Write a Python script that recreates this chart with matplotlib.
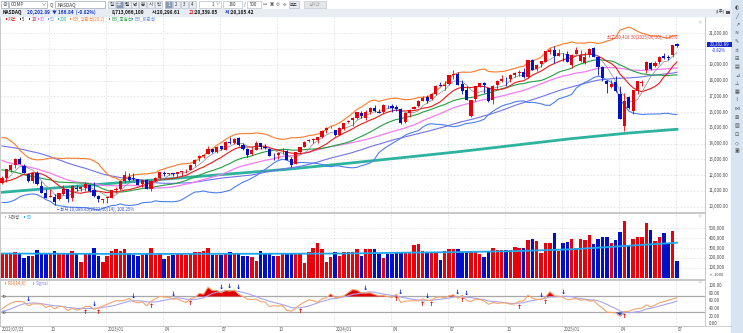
import numpy as np
import pandas as pd
import matplotlib
matplotlib.use("Agg")
import matplotlib.pyplot as plt
from matplotlib.patches import Rectangle

plt.rcParams['font.family'] = ['Noto Sans CJK KR', 'DejaVu Sans']

W, H = 743, 333

# weekly NASDAQ candles, first week ends 2022/07/22, last is the partial week of 2025/06/30
opens = [11480, 11800, 12310, 12660, 13000, 12600, 12090, 11640, 12120, 11340,
         10840, 10620, 10620, 10460, 10800, 11130, 10530, 11190, 11100, 11180,
         11400, 11040, 10700, 10440, 10560, 10580, 11080, 11120, 11620, 11900,
         11790, 11760, 11470, 11720, 11100, 11650, 11800, 12170, 12070, 12130,
         12080, 12210, 12240, 12340, 12700, 13080, 13240, 13340, 13670, 13470,
         13840, 13620, 14120, 14050, 14350, 13920, 13640, 13340, 13620, 14030,
         13780, 13680, 13240, 13250, 13380, 13520, 13050, 12710, 13450, 13810,
         14150, 14250, 14220, 14400, 14850, 15000, 14870, 14560, 14950, 15370,
         15520, 15600, 15960, 15650, 16010, 16250, 16010, 15990, 16410, 16380,
         16300, 16200, 15350, 15950, 16200, 16380, 16720, 16940, 16830, 17140,
         17700, 17630, 17760, 18360, 18400, 17800, 17380, 15780, 16810, 17650,
         17850, 17500, 16800, 17700, 17980, 18170, 18080, 18370, 18490, 18570,
         18240, 19300, 18730, 19040, 19200, 19810, 19950, 19570, 19650, 19700,
         18980, 19720, 19250, 19120, 19600, 20080, 19520, 18870, 17990, 17620,
         17900, 17180, 15100, 16970, 16100, 17330, 17850, 18700, 19100, 18950,
         19170, 19590, 19500, 19610, 20300]
highs = [11960, 12400, 12720, 13080, 13181, 12690, 12120, 12120, 12270, 11600,
         11110, 11150, 10810, 10870, 11350, 11150, 11340, 11400, 11320, 11570,
         11400, 11570, 10750, 10520, 10620, 11090, 11250, 11660, 12270, 12160,
         12150, 11780, 11710, 11780, 11720, 11890, 12230, 12270, 12170, 12170,
         12230, 12270, 12370, 12730, 13010, 13260, 13340, 13860, 13680, 13840,
         13880, 14140, 14450, 14330, 14450, 14050, 13700, 13760, 14150, 14040,
         13980, 13740, 13380, 13440, 13700, 13610, 13170, 13490, 13800, 14160,
         14300, 14340, 14410, 14850, 15040, 15100, 14880, 15070, 15320, 15520,
         15680, 16000, 16080, 16130, 16300, 16450, 16220, 16540, 16450, 16530,
         16450, 16270, 15990, 16170, 16390, 16780, 17030, 17080, 17240, 17700,
         17940, 17970, 18360, 18670, 18560, 18020, 17680, 16800, 17640, 17880,
         17920, 17530, 17700, 18040, 18330, 18200, 18390, 18550, 18690, 18790,
         19300, 19370, 19060, 19230, 19870, 20060, 20200, 20030, 19730, 19870,
         19700, 20120, 19950, 19800, 20050, 20110, 19580, 18900, 18030, 18030,
         18280, 17650, 17200, 17030, 17430, 18000, 18020, 19240, 19180, 19260,
         19560, 19750, 19630, 20280, 20418]
lows = [11410, 11560, 12220, 12440, 12680, 12140, 11580, 11500, 11360, 10850,
        10530, 10590, 10089, 10430, 10760, 10320, 10360, 10990, 10980, 10980,
        10950, 10630, 10320, 10260, 10260, 10540, 10870, 11080, 11500, 11660,
        11690, 11350, 11280, 11130, 10980, 11620, 11760, 11930, 11980, 11970,
        11800, 11930, 12150, 12320, 12570, 12900, 13110, 13340, 13420, 13380,
        13580, 13580, 13980, 13970, 13870, 13600, 13160, 13260, 13600, 13640,
        13680, 13210, 12960, 13010, 13370, 12980, 12540, 12700, 13390, 13800,
        14120, 14060, 14060, 14350, 14700, 14990, 14470, 14540, 14850, 15340,
        15150, 15550, 15650, 15520, 15900, 16020, 15940, 15940, 16270, 16000,
        16050, 15260, 15330, 15680, 16180, 16350, 16680, 16560, 16790, 17090,
        17640, 17400, 17700, 18110, 17700, 17180, 16750, 15708, 16700, 17600,
        17210, 16660, 16520, 17450, 17900, 17680, 17920, 18240, 18270, 18180,
        18150, 18660, 18600, 18870, 19160, 19700, 19110, 19550, 19270, 19160,
        18830, 19660, 19200, 19050, 19500, 19500, 18370, 17950, 17240, 17550,
        17280, 15580, 14780, 16170, 15900, 17160, 17640, 18500, 18650, 18880,
        19050, 19350, 19320, 19500, 20105]
closes = [11834, 12391, 12657, 13047, 12705, 12142, 11630, 12112, 11448, 10868,
          10576, 10652, 10321, 10860, 11102, 10475, 11323, 11146, 11226, 11461,
          11005, 10705, 10498, 10466, 10569, 11079, 11140, 11622, 12007, 11718,
          11787, 11395, 11689, 11138, 11631, 11824, 12222, 12088, 12123, 12072,
          12227, 12235, 12284, 12658, 12975, 13241, 13259, 13689, 13492, 13788,
          13660, 14113, 14032, 14317, 13909, 13645, 13290, 13590, 14031, 13762,
          13708, 13212, 13219, 13431, 13407, 12984, 12643, 13478, 13798, 14125,
          14250, 14305, 14404, 14814, 14992, 15011, 14524, 14973, 15311, 15455,
          15629, 15991, 15776, 15997, 16275, 16085, 15973, 16429, 16379, 16249,
          16175, 15282, 15928, 16156, 16341, 16686, 16921, 16735, 17133, 17689,
          17689, 17733, 18353, 18398, 17727, 17358, 16776, 16745, 17631, 17877,
          17714, 16691, 17683, 17948, 18119, 18138, 18343, 18490, 18519, 18240,
          19287, 18680, 19004, 19218, 19860, 19926, 19573, 19722, 19622, 19162,
          19630, 19954, 19627, 19523, 20027, 19524, 18847, 18196, 17754, 17784,
          17323, 15588, 16724, 16286, 17383, 17978, 17929, 19211, 18737, 19114,
          19530, 19407, 19447, 20273, 20203]
# weekly volume, in thousands of the axis unit
volumes = [247, 240, 247, 260, 233, 200, 220, 215, 280, 250,
           250, 245, 265, 245, 250, 240, 265, 235, 160, 240,
           240, 300, 215, 160, 215, 265, 290, 270, 285, 245,
           230, 215, 225, 250, 300, 230, 235, 190, 215, 230,
           240, 250, 230, 250, 255, 260, 265, 300, 230, 230,
           230, 240, 260, 240, 240, 220, 215, 207, 170, 270,
           237, 237, 213, 213, 237, 237, 237, 237, 240, 146,
           254, 291, 348, 281, 160, 203, 254, 213, 254, 254,
           260, 281, 213, 281, 290, 290, 237, 195, 237, 237,
           245, 245, 254, 260, 324, 331, 270, 260, 260, 260,
           180, 270, 290, 281, 290, 260, 254, 254, 260, 240,
           207, 254, 298, 275, 275, 275, 275, 308, 300, 300,
           375, 382, 365, 248, 348, 348, 442, 265, 348, 355,
           382, 298, 382, 375, 422, 331, 388, 405, 405, 345,
           372, 460, 567, 324, 382, 409, 405, 543, 473, 362,
           402, 449, 348, 469, 167]

# closes of the 51 weeks before the window (feed the moving averages and RSI)
prior_closes = [14673, 14835, 14822, 14714, 15130, 15364, 15115, 15044, 15048, 14567,
                14580, 14897, 15090, 15498, 15971, 15860, 16057, 15492, 15085, 15630,
                15170, 15653, 15645, 14936, 14894, 13769, 13771, 14098, 13791, 13548,
                13694, 13313, 12843, 13894, 14169, 14261, 13711, 13351, 12839, 12335,
                12145, 11805, 11354, 12131, 12013, 11340, 10798, 11608, 11128, 11635,
                11452]

# 200-week average and 50-week volume average
ma200_idx = [0, 13, 26, 39, 52, 65, 78, 91, 104, 117, 130, 143, 154]
ma200_val = [10914, 11212, 11504, 11789, 12081, 12373, 12728, 13103, 13483, 13902, 14321, 14676, 14911]
volma_idx = [0, 13, 26, 39, 52, 65, 78, 91, 104, 117, 130, 143, 154]
volma_val = [240, 238, 236, 236, 237, 238, 240, 248, 254, 264, 282, 318, 348]

n = len(closes)
x = np.arange(n)
dates = pd.date_range('2022-07-22', periods=n, freq='W-FRI')

all_close = pd.Series(prior_closes + closes, dtype=float)
k = len(prior_closes)


def ma(p):
    return all_close.rolling(p).mean().iloc[k:].to_numpy()


ma5, ma10, ma30, ma50 = ma(5), ma(10), ma(30), ma(50)
bb_mid = ma(20)
bb_sd = all_close.rolling(20).std(ddof=0).iloc[k:].to_numpy()
bb_up = bb_mid + 2 * bb_sd
bb_dn = bb_mid - 2 * bb_sd

d = all_close.diff()
au = d.clip(lower=0).rolling(14).mean()
ad = (-d.clip(upper=0)).rolling(14).mean()
rsi_s = 100 * au / (au + ad)
rsi = rsi_s.iloc[k:].to_numpy()
sig = rsi_s.rolling(6).mean().iloc[k:].to_numpy()

o, h, l, c = map(np.array, (opens, highs, lows, closes))
is_up = c >= o
col = np.where(is_up, '#e8000b', '#0010c8')

fig = plt.figure(figsize=(W / 100, H / 100), dpi=100)
fig.patch.set_facecolor('white')


def pax(x0, y0, x1, y1):
    return fig.add_axes([x0 / W, 1 - y1 / H, (x1 - x0) / W, (y1 - y0) / H])


XL = (-0.46, 160.4)
quarters = [i for i in range(1, n) if dates[i].month != dates[i - 1].month and dates[i].month in (1, 4, 7, 10)]
grid_kw = dict(color='#e2e2e2', ls=(0, (2, 2)), lw=0.6, zorder=0)


def style(ax):
    ax.set_xlim(*XL)
    ax.set_xticks([])
    ax.set_yticks([])
    for s in ax.spines.values():
        s.set_color('#c8c8c8')
        s.set_linewidth(0.7)
    for q in quarters:
        ax.axvline(q - 0.3, **grid_kw)


# price panel
ax = pax(0, 16, 705, 212)
style(ax)
ax.set_ylim(9664, 22100)
for lv in range(10000, 22000, 1000):
    ax.axhline(lv, **grid_kw)
ax.plot(ma200_idx, ma200_val, color='#2db39e', lw=2.0, zorder=2)
ax.plot(x, ma50, color='#7272f0', lw=0.8, zorder=2)
ax.plot(x, ma30, color='#f47cf0', lw=0.9, zorder=2)
ax.plot(x, bb_up, color='#ff7a2a', lw=0.8, zorder=2)
ax.plot(x, bb_mid, color='#20a040', lw=0.8, zorder=2)
ax.plot(x, bb_dn, color='#4d7ef0', lw=0.8, zorder=2)
ax.plot(x, ma10, color='#f01818', lw=0.8, zorder=3)
ax.plot(x, ma5, color='#8a8a8a', lw=0.5, zorder=3)
ax.vlines(x, l, h, colors=col, lw=0.6, zorder=4)
ax.bar(x, np.maximum(np.abs(c - o), 25), bottom=np.minimum(o, c), width=0.72,
       color=col, lw=0, zorder=5)

# volume panel
axv = pax(0, 213, 705, 279)
style(axv)
axv.set_ylim(-14.7, 645)
for lv in range(100, 600, 100):
    axv.axhline(lv, **grid_kw)
axv.bar(x, volumes, width=0.78, color=col, lw=0, zorder=2)
axv.plot(volma_idx, volma_val, color='#1ea6ee', lw=1.3, zorder=3)

# RSI panel
axr = pax(0, 280, 705, 326)
style(axr)
axr.set_ylim(-6, 112.4)
axr.axhline(70, color='#a8a8a8', lw=0.9, zorder=1)
axr.axhline(30, color='#a8a8a8', lw=0.9, zorder=1)
axr.fill_between(x, rsi, 70, where=rsi > 70, interpolate=True, color='#e00000', lw=0, zorder=2)
axr.fill_between(x, rsi, 30, where=rsi < 30, interpolate=True, color='#1050e0', lw=0, zorder=2)
axr.plot(x, sig, color='#aaa4f2', lw=0.8, zorder=3)
axr.plot(x, rsi, color='#f4a46c', lw=0.8, zorder=3)
for i in range(1, n):
    if np.isnan(sig[i - 1]):
        continue
    if rsi[i] > sig[i] and rsi[i - 1] <= sig[i - 1]:
        axr.text(i, min(rsi[i], sig[i]) - 4, '↑', color='#e00000', fontsize=4.5, fontweight='bold',
                 ha='center', va='top', zorder=4, family='DejaVu Sans')
    elif rsi[i] < sig[i] and rsi[i - 1] >= sig[i - 1]:
        axr.text(i, max(rsi[i], sig[i]) + 4, '↓', color='#0020e0', fontsize=4.5, fontweight='bold',
                 ha='center', va='bottom', zorder=4, family='DejaVu Sans')

# decorations in pixel coordinates
deco = fig.add_axes([0, 0, 1, 1])
deco.set_xlim(0, W)
deco.set_ylim(H, 0)
deco.axis('off')
deco.set_zorder(10)
deco.patch.set_alpha(0)


def t(px, py, s, size=3.2, color='#333333', ha='left', **kw):
    deco.text(px, py, s, fontsize=size, color=color, ha=ha, va='center', **kw)


# toolbar
deco.add_patch(Rectangle((731, 0), 12, H, color='#d8e4f2', zorder=0))
deco.add_patch(Rectangle((0, 9), 731, 7, color='#e8edf4', zorder=0))
deco.add_patch(Rectangle((1, 1), 7, 7, fc='white', ec='#9aa5b5', lw=0.5))
t(4.5, 4.6, '⊕', 3.5, '#555555', ha='center')
deco.add_patch(Rectangle((9, 1), 38, 7, fc='white', ec='#9aa5b5', lw=0.5))
t(11, 4.6, 'COMP', 3.4, '#444444')
t(44, 4.6, '∨', 3, '#444444', ha='center')
t(51, 4.6, 'Q', 3.4, '#444444', ha='center')
deco.add_patch(Rectangle((55, 1), 50, 7, fc='white', ec='#9aa5b5', lw=0.5))
t(58, 4.6, 'NASDAQ', 3.4, '#333333')
for j, s in enumerate(['일', '주', '월', '년', '분', '시', '틱']):
    fc = '#8a9bb5' if s == '주' else '#e9edf3'
    deco.add_patch(Rectangle((108 + j * 7.8, 1.2), 7, 6.6, fc=fc, ec='#a8b3c3', lw=0.4))
    t(111.5 + j * 7.8, 4.6, s, 3.2, 'white' if s == '주' else '#333333', ha='center')
for j, s in enumerate(['1', '2', '3', '4']):
    fc = '#8a9bb5' if s == '1' else '#e9edf3'
    deco.add_patch(Rectangle((165 + j * 8, 1.2), 7, 6.6, fc=fc, ec='#a8b3c3', lw=0.4))
    t(168.5 + j * 8, 4.6, s, 3.2, 'white' if s == '1' else '#333333', ha='center')
deco.add_patch(Rectangle((199, 1.2), 22, 6.6, fc='white', ec='#a8b3c3', lw=0.4))
t(213, 4.6, '1', 3.2, '#333333', ha='center')
t(218, 4.6, '∨', 2.8, '#444444', ha='center')
deco.add_patch(Rectangle((223, 1.2), 19, 6.6, fc='white', ec='#a8b3c3', lw=0.4))
t(232, 4.6, '160', 3.2, '#333333', ha='center')
t(244.5, 4.6, '/', 3.2, '#333333', ha='center')
deco.add_patch(Rectangle((247, 1.2), 14, 6.6, fc='white', ec='#a8b3c3', lw=0.4))
t(254, 4.6, '500', 3.2, '#333333', ha='center')
for j, s in enumerate(['▭', '▣', '◎', '✣']):
    t(265 + j * 6.5, 4.6, s, 3.2, '#555555', ha='center', family='DejaVu Sans')
deco.add_patch(Rectangle((289, 1.2), 10, 6.6, fc='#e9edf3', ec='#a8b3c3', lw=0.4))
t(294, 4.6, '보조', 3.0, '#333333', ha='center')
deco.add_patch(Rectangle((304, 1.2), 22, 6.6, fc='#e4e6ea', ec='#b8bec8', lw=0.4))
t(315, 4.6, '실시간', 3.0, '#9a9a9a', ha='center')

# side tool icons
side_icons = ['◐', '╱', '↗', '≈', '✎', '±', '⊞', '▤', '⊿', '⊥', '▦', '⌇', '⋈', '⊠', '▧', '⊡', '◇', '▣']
for j, s in enumerate(side_icons):
    t(737, 8 + j * 8.4, s, 3.6, '#4a4a4a', ha='center', family='DejaVu Sans')
for py in (22, 216, 282):
    t(700, py, '◁▷', 2.6, '#9a9a9a', ha='center', family='DejaVu Sans')

# quote line
t(3, 12.6, 'NASDAQ', 3.4, '#111111', fontweight='bold')
t(27, 12.6, '20,202.89  ▼ 166.84  (-0.82%)', 3.4, '#1030d0', fontweight='bold')
t(112, 12.6, '8,713,066,100', 3.4, '#111111', fontweight='bold')
t(152, 12.6, '시:20,298.61', 3.4, '#111111', fontweight='bold')
t(189, 12.6, '고', 3.4, '#e00000', fontweight='bold')
t(194, 12.6, ':20,339.05', 3.4, '#111111', fontweight='bold')
t(225, 12.6, '저', 3.4, '#1030d0', fontweight='bold')
t(230, 12.6, ':20,105.42', 3.4, '#111111', fontweight='bold')
t(715, 12.6, '[1주]', 3.0, '#333333')
deco.add_patch(Rectangle((726, 10.8), 3.5, 3.5, fc='#555555', lw=0))

# legends
legend_items = [(6, '가격', '#e00000'), (20, '5', '#222222'), (29, '10', '#e00000'),
                (38, '30', '#f060f0'), (48, '50', '#6a9cf5'), (58, '200', '#30b090'),
                (70, 'BB_상한선(20,2)', '#ff7a2a'), (109, 'BB_중심선', '#20a040'),
                (132, 'BB_하한선', '#4d7ef0')]
for px, s, cc in legend_items:
    deco.add_patch(Rectangle((px, 17.8), 1.3, 2.6, color=cc, lw=0))
    t(px + 2.2, 19.2, s, 3.2, cc)
deco.add_patch(Rectangle((5, 215.8), 1.3, 2.6, color='#c8c820', lw=0))
t(7.5, 217.2, '거래량', 3.2, '#555555')
deco.add_patch(Rectangle((24, 215.8), 1.3, 2.6, color='#1ea6ee', lw=0))
t(26.5, 217.2, '50', 3.2, '#1ea6ee')
deco.add_patch(Rectangle((5, 282.3), 1.3, 2.6, color='#f4a46c', lw=0))
t(7.5, 283.7, 'RSI(14,6)', 3.2, '#e07030')
deco.add_patch(Rectangle((33, 282.3), 1.3, 2.6, color='#aaa4f2', lw=0))
t(35.5, 283.7, 'Signal', 3.2, '#8a84e2')
t(2, 297.3, '70', 3.0, '#444444')
t(2, 312.6, '30', 3.0, '#444444')

# right scales (the 20,000 level sits under the last-price box)
for lv in range(10000, 22000, 1000):
    if lv == 20000:
        continue
    py = 206.7 - (lv - 10000) * 0.01576
    t(709, py, f'{lv:,.2f}', 3.1, '#444444')
for lv in range(100, 600, 100):
    py = 277.55 - lv * 0.0985
    t(709, py, f'{lv * 1000:,}', 3.1, '#444444')
t(709, 275.3, '× 1000', 3.0, '#444444')
for lv in range(0, 101, 20):
    py = 323.7 - lv * 0.38
    t(709, py, f'{lv:.2f}', 3.1, '#444444')
deco.add_patch(Rectangle((707, 41.6), 25, 5.4, color='#1426c8', lw=0))
t(719.5, 44.3, '20,202.89', 3.1, 'white', ha='center')
t(712, 50.7, '-0.82%', 3.1, '#1030d0')

# bottom date labels
deco.plot([0, 731], [326, 326], color='#c8c8c8', lw=0.6)
t(2, 329.6, '2022/07/22', 3.1, '#555555')
for q in quarters:
    px = 2 + 4.383 * q
    lab = dates[q].strftime('%Y/%m') if dates[q].month == 1 else dates[q].strftime('%m')
    t(px + 0.5, 329.6, lab, 3.1, '#555555')

# high / low marks
hi = int(np.argmax(h))
lo = int(np.argmin(l))
t(2 + 4.383 * hi, 37, '최고 20,418.30(2025/06/30), -1.05%', 3.1, '#e84040', ha='right')
t(2 + 4.383 * lo, 208.8, '└ 최저 10,088.83(2022/10/14), 100.25%', 3.1, '#3050d0')

fig.savefig('out.png', dpi=100, facecolor='white')
